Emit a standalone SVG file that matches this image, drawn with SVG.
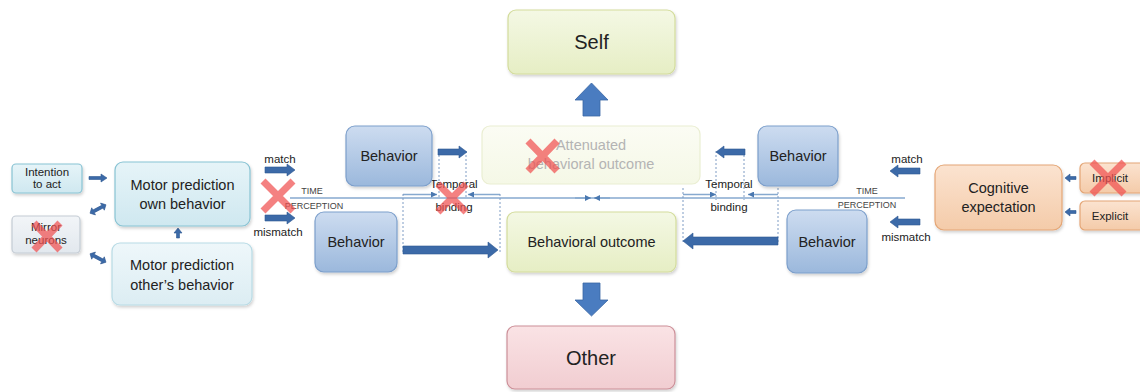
<svg xmlns="http://www.w3.org/2000/svg" width="1140" height="392" viewBox="0 0 1140 392">
<defs>
<linearGradient id="gBlue" x1="0" y1="0" x2="0" y2="1"><stop offset="0" stop-color="#cddcf0"/><stop offset="1" stop-color="#9bb8dc"/></linearGradient>
<linearGradient id="gCyan" x1="0" y1="0" x2="0" y2="1"><stop offset="0" stop-color="#e6f4f8"/><stop offset="1" stop-color="#cfe8f0"/></linearGradient>
<linearGradient id="gCyanL" x1="0" y1="0" x2="0" y2="1"><stop offset="0" stop-color="#eef7fa"/><stop offset="1" stop-color="#dcedf3"/></linearGradient>
<linearGradient id="gGreen" x1="0" y1="0" x2="0" y2="1"><stop offset="0" stop-color="#f4f8e4"/><stop offset="1" stop-color="#e6eec4"/></linearGradient>
<linearGradient id="gGreenF" x1="0" y1="0" x2="0" y2="1"><stop offset="0" stop-color="#fbfcf4"/><stop offset="1" stop-color="#f5f8e6"/></linearGradient>
<linearGradient id="gPink" x1="0" y1="0" x2="0" y2="1"><stop offset="0" stop-color="#fae3e5"/><stop offset="1" stop-color="#f1cdd1"/></linearGradient>
<linearGradient id="gOrange" x1="0" y1="0" x2="0" y2="1"><stop offset="0" stop-color="#fbe3d0"/><stop offset="1" stop-color="#f4cba9"/></linearGradient>
<linearGradient id="gGray" x1="0" y1="0" x2="0" y2="1"><stop offset="0" stop-color="#f2f5f8"/><stop offset="1" stop-color="#e2e8ee"/></linearGradient>
<filter id="sh" x="-10%" y="-10%" width="130%" height="140%"><feDropShadow dx="1" dy="2" stdDeviation="1.5" flood-color="#000" flood-opacity="0.18"/></filter>
<marker id="ahR" viewBox="0 0 6 6" refX="6" refY="3" markerWidth="6" markerHeight="6" markerUnits="userSpaceOnUse" orient="auto"><path d="M0,0 L6,3 L0,6 z" fill="#4a78b0"/></marker>
</defs>
<style>
text{font-family:"Liberation Sans",Arial,sans-serif;fill:#222;text-anchor:middle}
.t14{font-size:14.5px}
.t11{font-size:11.5px}
.tiny{font-size:9px;fill:#444}
.blue{fill:url(#gBlue);stroke:#7c9fcb;stroke-width:1.2;filter:url(#sh)}
.cyan{fill:url(#gCyan);stroke:#88c3d3;stroke-width:1.2;filter:url(#sh)}
.cyanL{fill:url(#gCyanL);stroke:#b8dbe5;stroke-width:1.2;filter:url(#sh)}
.green{fill:url(#gGreen);stroke:#d3dc9c;stroke-width:1.2;filter:url(#sh)}
.greenF{fill:url(#gGreenF);stroke:#eaeed2;stroke-width:1.2}
.pink{fill:url(#gPink);stroke:#cc8f98;stroke-width:1.2;filter:url(#sh)}
.orange{fill:url(#gOrange);stroke:#e4a676;stroke-width:1.2;filter:url(#sh)}
.gray{fill:url(#gGray);stroke:#c4ccd4;stroke-width:1.2;filter:url(#sh)}
.arr{fill:#3c6aa8;stroke:#2e5790;stroke-width:0.6}
.big{fill:#4a7cc0;stroke:#3a67a4;stroke-width:0.8}
.axis{stroke:#86a9cf;stroke-width:1.5;fill:none}
.dash{stroke:#7e9cc4;stroke-width:1;stroke-dasharray:2 2;fill:none}
.x{stroke:#f05050;stroke-width:7;stroke-opacity:0.72;fill:none}
</style>

<g id="connectors">
  <line class="axis" x1="290" y1="198" x2="905" y2="198"/>
  <line class="axis" x1="403" y1="194.5" x2="437" y2="194.5" marker-end="url(#ahR)"/>
  <line class="axis" x1="500" y1="194.5" x2="468" y2="194.5" marker-end="url(#ahR)"/>
  <line class="axis" x1="683" y1="194.5" x2="716" y2="194.5" marker-end="url(#ahR)"/>
  <line class="axis" x1="778" y1="194.5" x2="748" y2="194.5" marker-end="url(#ahR)"/>
  <line class="axis" x1="575" y1="198" x2="591" y2="198" marker-end="url(#ahR)"/>
  <line class="axis" x1="610" y1="198" x2="594" y2="198" marker-end="url(#ahR)"/>
  <line class="dash" x1="439" y1="151" x2="439" y2="198"/>
  <line class="dash" x1="466" y1="151" x2="466" y2="198"/>
  <line class="dash" x1="403" y1="194" x2="403" y2="252"/>
  <line class="dash" x1="500" y1="194" x2="500" y2="252"/>
  <line class="dash" x1="716" y1="151" x2="716" y2="200"/>
  <line class="dash" x1="744" y1="151" x2="744" y2="200"/>
  <line class="dash" x1="683" y1="188" x2="683" y2="243"/>
  <line class="dash" x1="778" y1="188" x2="778" y2="243"/>
  <polygon class="arr" points="89,176.5 101,176.5 101,174 107,178 101,182 101,179.5 89,179.5"/>
  <polygon class="arr" transform="translate(98,209) rotate(-28)" points="-9,0 -5,-4 -5,-1.5 5,-1.5 5,-4 9,0 5,4 5,1.5 -5,1.5 -5,4"/>
  <polygon class="arr" transform="translate(98,258) rotate(28)" points="-9,0 -5,-4 -5,-1.5 5,-1.5 5,-4 9,0 5,4 5,1.5 -5,1.5 -5,4"/>
  <polygon class="arr" points="176.5,238 176.5,233 174,233 178,228 182,233 179.5,233 179.5,238"/>
  <polygon class="arr" points="265,167 287,167 287,164 295,170 287,176 287,173 265,173"/>
  <polygon class="arr" points="265,215 287,215 287,212 295,218 287,224 287,221 265,221"/>
  <polygon class="arr" points="438,149 459,149 459,146 467,152 459,158 459,155 438,155"/>
  <polygon class="arr" points="403,246 488,246 488,242 498,250 488,258 488,254 403,254"/>
  <polygon class="arr" points="745,149 724,149 724,146 716,152 724,158 724,155 745,155"/>
  <polygon class="arr" points="778,237 693,237 693,233 683,241 693,249 693,245 778,245"/>
  <polygon class="arr" points="920,168 898,168 898,165 890,171 898,177 898,174 920,174"/>
  <polygon class="arr" points="920,219 898,219 898,216 890,222 898,228 898,225 920,225"/>
  <polygon class="arr" points="1076,176.5 1070,176.5 1070,174 1065,178 1070,182 1070,179.5 1076,179.5"/>
  <polygon class="arr" points="1076,210.5 1070,210.5 1070,208 1065,212 1070,216 1070,213.5 1076,213.5"/>
  <polygon class="big" points="591.5,83 608,100 600,100 600,116 583,116 583,100 575,100"/>
  <polygon class="big" points="583,283 600,283 600,300 608,300 591.5,316 575,300 583,300"/>
</g>

<g id="labels">
  <text class="t11" x="280" y="163">match</text>
  <text class="t11" x="278" y="236">mismatch</text>
  <text class="tiny" x="312" y="194">TIME</text>
  <text class="tiny" x="314" y="209">PERCEPTION</text>
  <text class="t11" x="907" y="163">match</text>
  <text class="t11" x="906" y="241">mismatch</text>
  <text class="tiny" x="867" y="194">TIME</text>
  <text class="tiny" x="867" y="208">PERCEPTION</text>
  <text class="t11" x="454" y="188">Temporal</text>
  <text class="t11" x="454" y="211">binding</text>
  <text class="t11" x="729" y="188">Temporal</text>
  <text class="t11" x="729" y="211">binding</text>
</g>

<g id="intention"><rect class="cyan" x="12" y="164" width="70" height="29" rx="4"/><text class="t11" x="47" y="176">Intention</text><text class="t11" x="47" y="188">to act</text></g>
<g id="mirror"><rect class="gray" x="12" y="216" width="68" height="37" rx="4"/><text class="t11" x="46" y="231">Mirror</text><text class="t11" x="46" y="244">neurons</text></g>
<g id="motorOwn"><rect class="cyan" x="115" y="162" width="135" height="64" rx="8"/><text class="t14" x="182.5" y="190">Motor prediction</text><text class="t14" x="182.5" y="209">own behavior</text></g>
<g id="motorOther"><rect class="cyanL" x="112" y="243" width="140" height="62" rx="8"/><text class="t14" x="182" y="270">Motor prediction</text><text class="t14" x="182" y="290">other’s behavior</text></g>

<g id="behaviorUL"><rect class="blue" x="346" y="126" width="86" height="60" rx="9"/><text class="t14" x="389" y="161">Behavior</text></g>
<g id="behaviorLL"><rect class="blue" x="315" y="212" width="82" height="60" rx="9"/><text class="t14" x="356" y="247">Behavior</text></g>
<g id="behaviorUR"><rect class="blue" x="758" y="126" width="80" height="60" rx="9"/><text class="t14" x="798" y="161">Behavior</text></g>
<g id="behaviorLR"><rect class="blue" x="787" y="210" width="80" height="63" rx="9"/><text class="t14" x="827" y="247">Behavior</text></g>

<g id="attenuated"><rect class="greenF" x="482" y="126" width="218" height="58" rx="8"/><text class="t14" x="591" y="150" style="fill:#b4b4b4">Attenuated</text><text class="t14" x="591" y="169" style="fill:#b4b4b4">behavioral outcome</text></g>
<g id="outcome"><rect class="green" x="507" y="212" width="169" height="60" rx="8"/><text class="t14" x="591.5" y="247">Behavioral outcome</text></g>
<g id="self"><rect class="green" x="508" y="10" width="167" height="64" rx="8"/><text x="591.5" y="49" style="font-size:20px">Self</text></g>
<g id="other"><rect class="pink" x="507" y="326" width="168" height="63" rx="8"/><text x="591" y="365" style="font-size:20px">Other</text></g>

<g id="cognitive"><rect class="orange" x="935" y="165" width="127" height="65" rx="9"/><text class="t14" x="998.5" y="193">Cognitive</text><text class="t14" x="998.5" y="212">expectation</text></g>
<g id="implicit"><rect class="orange" x="1080" y="163" width="66" height="30" rx="5"/><text class="t11" x="1110" y="182">Implicit</text></g>
<g id="explicit"><rect class="orange" x="1080" y="201" width="66" height="29" rx="5"/><text class="t11" x="1110" y="220">Explicit</text></g>

<g id="crosses">
  <path class="x" d="M263,181 L293,211 M293,181 L263,211"/>
  <path class="x" d="M438,184 L466,212 M466,184 L438,212"/>
  <path class="x" d="M528,141 L557,171 M557,141 L528,171"/>
  <path class="x" d="M34,223 L60,250 M60,223 L34,250"/>
  <path class="x" d="M1092,162 L1124,194 M1124,162 L1092,194"/>
</g>
</svg>
